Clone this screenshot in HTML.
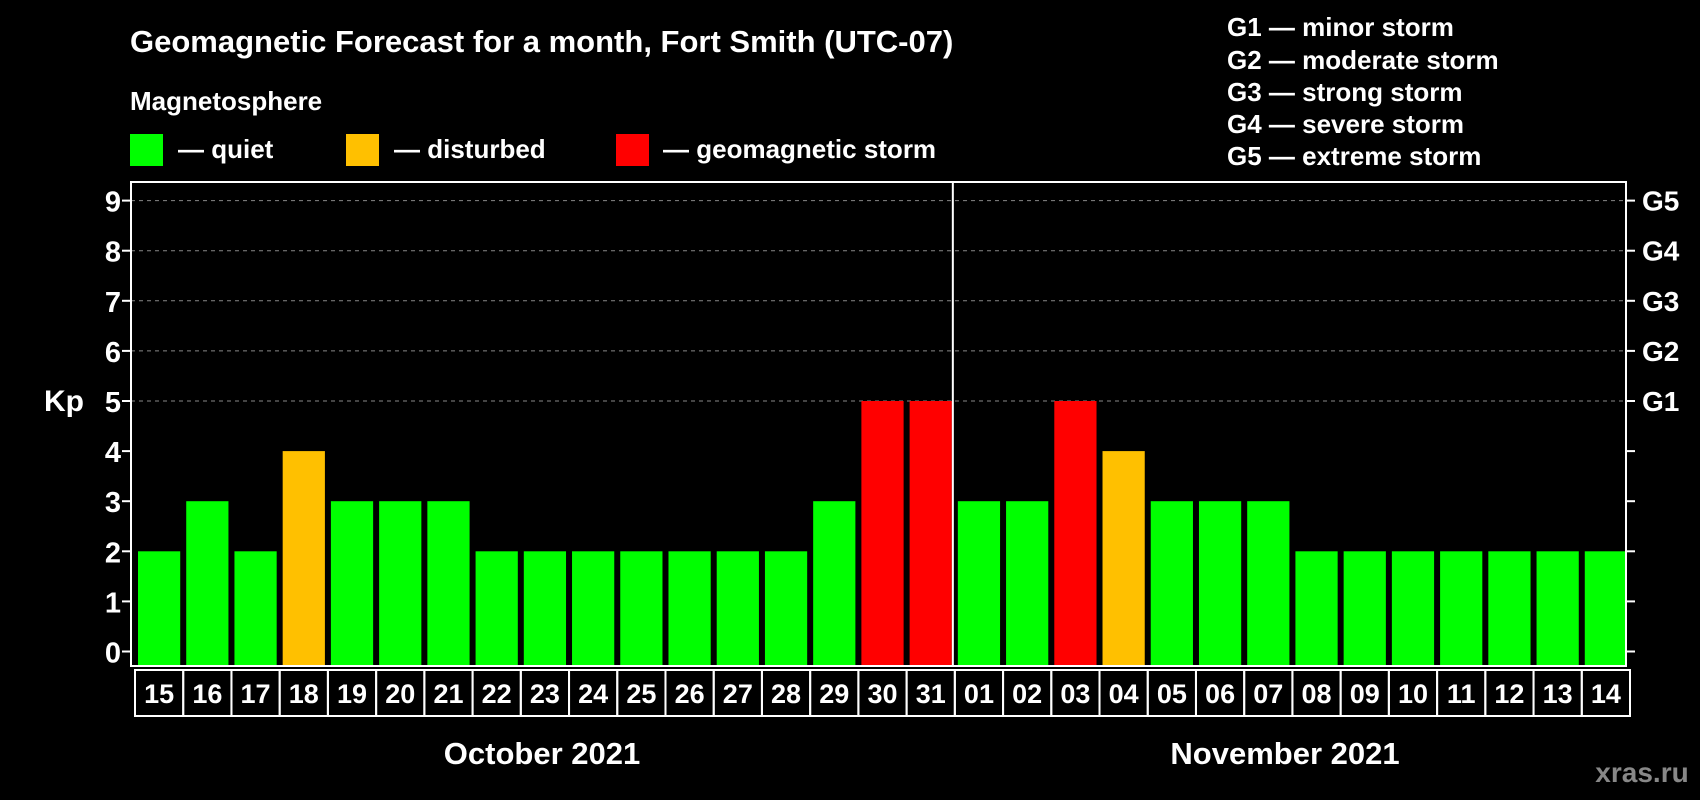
<!DOCTYPE html>
<html><head><meta charset="utf-8"><style>
body{margin:0;background:#000;width:1700px;height:800px;overflow:hidden;font-family:"Liberation Sans",sans-serif;font-weight:bold;color:#fff}
</style></head><body>
<svg width="1700" height="800" style="position:absolute;left:0;top:0;font-family:'Liberation Sans',sans-serif;font-weight:bold">
<text x="130" y="52" font-size="31" fill="#fff">Geomagnetic Forecast for a month, Fort Smith (UTC-07)</text>
<text x="130" y="110" font-size="26" fill="#fff">Magnetosphere</text>
<rect x="130" y="134" width="33" height="32" fill="#00ff00"/>
<text x="178" y="158" font-size="26" fill="#fff">— quiet</text>
<rect x="346" y="134" width="33" height="32" fill="#ffc000"/>
<text x="394" y="158" font-size="26" fill="#fff">— disturbed</text>
<rect x="616" y="134" width="33" height="32" fill="#ff0000"/>
<text x="663" y="158" font-size="26" fill="#fff">— geomagnetic storm</text>
<g font-size="26" fill="#fff">
<text x="1227" y="36">G1 — minor storm</text>
<text x="1227" y="69">G2 — moderate storm</text>
<text x="1227" y="101">G3 — strong storm</text>
<text x="1227" y="133">G4 — severe storm</text>
<text x="1227" y="165">G5 — extreme storm</text>
</g>
<text x="64" y="411" font-size="30" fill="#fff" text-anchor="middle">Kp</text>
<g id="plot"></g>
<text x="542" y="764" font-size="31" fill="#fff" text-anchor="middle">October 2021</text>
<text x="1285" y="764" font-size="31" fill="#fff" text-anchor="middle">November 2021</text>
<text x="1642" y="782" font-size="28" fill="#888" text-anchor="middle">xras.ru</text>
</svg>
<script>
const days=["15","16","17","18","19","20","21","22","23","24","25","26","27","28","29","30","31","01","02","03","04","05","06","07","08","09","10","11","12","13","14"];
const kp=[2,3,2,4,3,3,3,2,2,2,2,2,2,2,3,5,5,3,3,5,4,3,3,3,2,2,2,2,2,2,2];
const yTicks=[0,1,2,3,4,5,6,7,8,9];
const gLabels=["G1","G2","G3","G4","G5"];
const L=131,R=1626,T=182,B=666,y0=651.5,unit=50.1;
const pitch=(R-L)/days.length;
const ys=v=>y0-v*unit;
const xs=i=>L+i*pitch;
const NS="http://www.w3.org/2000/svg";
const g=document.getElementById("plot");
function mk(t,a){const e=document.createElementNS(NS,t);for(const k in a)e.setAttribute(k,a[k]);g.appendChild(e);return e;}
yTicks.forEach(v=>{
 if(v>=5){const l=mk("line",{x1:L,x2:R,y1:ys(v),y2:ys(v),stroke:"#888","stroke-dasharray":"4,4","stroke-width":1});
 
 }
 const t1=mk("line",{x1:L-9,x2:L,y1:ys(v),y2:ys(v),stroke:"#fff","stroke-width":2});
 
 
 const t2=mk("line",{x1:R,x2:R+9,y1:ys(v),y2:ys(v),stroke:"#fff","stroke-width":2});
 
 
 const tx=mk("text",{x:L-10,y:ys(v)+11,"font-size":29,fill:"#fff","text-anchor":"end"});
 tx.textContent=v;
 
 
});
gLabels.forEach((s,i)=>{
 const t=mk("text",{x:R+16,y:ys(5+i)+10,"font-size":28,fill:"#fff"});
 t.textContent=s;
 
 
});
const col=v=>v>=5?"#ff0000":(v>=4?"#ffc000":"#00ff00");
kp.forEach((v,i)=>{
 const b=mk("rect",{x:xs(i)+7,y:ys(v),width:pitch-6,height:B-1-ys(v),fill:col(v)});
 
 
 const c=mk("rect",{x:xs(i)+4,y:B+4,width:pitch,height:46,fill:"none",stroke:"#fff","stroke-width":2});
 
 
 const t=mk("text",{x:xs(i)+4+pitch/2,y:B+37,"font-size":27,fill:"#fff","text-anchor":"middle"});
 t.textContent=days[i];
 
 
});
const f=mk("rect",{x:L,y:T,width:R-L,height:B-T,fill:"none",stroke:"#fff","stroke-width":2});


const d=mk("line",{x1:xs(17)+2,x2:xs(17)+2,y1:T,y2:B,stroke:"#fff","stroke-width":2});


</script>
</body></html>
